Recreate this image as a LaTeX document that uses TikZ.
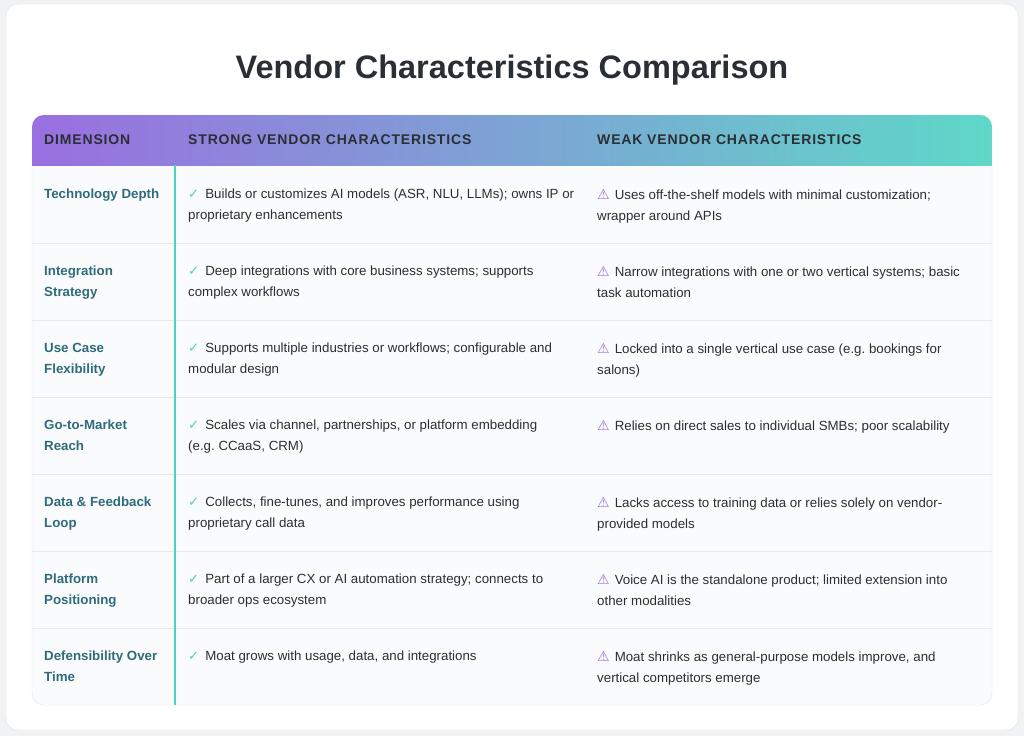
\documentclass[tikz,border=0pt]{standalone}
\usepackage{fontspec}
\setmainfont{Liberation Sans}
\newfontfamily\symfont{DejaVu Sans}
\usetikzlibrary{positioning}
\definecolor{pagebg}{HTML}{F1F2F4}
\definecolor{cardline}{HTML}{E3E5E8}
\definecolor{headl}{HTML}{9A6FE0}
\definecolor{headr}{HTML}{5FD8C8}
\definecolor{dimtext}{HTML}{2F6B7C}
\definecolor{bodytext}{HTML}{2A2F36}
\definecolor{tick}{HTML}{4FD1BE}
\definecolor{warn}{HTML}{9A6FE0}
\definecolor{rowline}{HTML}{E6E8EB}
\definecolor{rowbg}{HTML}{FAFBFC}
\tikzset{
  dimcell/.style={anchor=north west, text width=130pt, align=flush left, font=\fontsize{13.3}{21}\selectfont\bfseries, text=dimtext, inner sep=0pt},
  strongcell/.style={anchor=north west, text width=395pt, align=flush left, font=\fontsize{13.3}{21}\selectfont, text=bodytext, inner sep=0pt},
  weakcell/.style={strongcell},
  headcell/.style={anchor=west, font=\fontsize{14}{16}\selectfont\bfseries\addfontfeatures{LetterSpace=6}, text=bodytext, inner sep=0pt}
}
\newcommand{\good}{{\color{tick}\symfont ✓}\hspace{6pt}}
\newcommand{\bad}{{\color{warn}\symfont\fontsize{14}{21}\selectfont ⚠}\hspace{5pt}}
\begin{document}
\begin{tikzpicture}[x=1pt,y=-1pt]
        % Page and card
        \fill[pagebg] (0,0) rectangle (1024,736);
        \useasboundingbox (0,0) rectangle (1024,736);
        \draw[cardline, fill=white, rounded corners=12pt] (6,4) rectangle (1018,730);

        \node[font=\fontsize{32.5}{38}\selectfont\bfseries, text=bodytext] (title) at (512,70) {Vendor Characteristics Comparison};

        % Table body
        \draw[cardline, fill=rowbg, rounded corners=12pt] (32,115) rectangle (992,705);
        \begin{scope}
          \clip[rounded corners=12pt] (32,115) rectangle (992,190);
          \shade[left color=headl, right color=headr] (32,115) rectangle (992,165);
        \end{scope}
        \foreach \y in {243,320,397,474,551,628}
          \draw[rowline] (32,\y) -- (992,\y);
        \draw[tick, line width=2pt] (175,165) -- (175,705);

        % Header labels
        \node[headcell] (hdim) at (44,140) {DIMENSION};
        \node[headcell] (hstrong) at (188,140) {STRONG VENDOR CHARACTERISTICS};
        \node[headcell] (hweak) at (597,140) {WEAK VENDOR CHARACTERISTICS};

        % Rows
        \node[dimcell] (d1) at (44,189) {Technology Depth};
        \node[strongcell] (s1) at (188,189) {\good Builds or customizes AI models (ASR, NLU, LLMs); owns IP or\\proprietary enhancements};
        \node[weakcell] (w1) at (597,189) {\bad Uses off-the-shelf models with minimal customization;\\wrapper around APIs};

        \node[dimcell] (d2) at (44,266) {Integration\\Strategy};
        \node[strongcell] (s2) at (188,266) {\good Deep integrations with core business systems; supports\\complex workflows};
        \node[weakcell] (w2) at (597,266) {\bad Narrow integrations with one or two vertical systems; basic\\task automation};

        \node[dimcell] (d3) at (44,343) {Use Case\\Flexibility};
        \node[strongcell] (s3) at (188,343) {\good Supports multiple industries or workflows; configurable and\\modular design};
        \node[weakcell] (w3) at (597,343) {\bad Locked into a single vertical use case (e.g.\ bookings for\\salons)};

        \node[dimcell] (d4) at (44,420) {Go-to-Market\\Reach};
        \node[strongcell] (s4) at (188,420) {\good Scales via channel, partnerships, or platform embedding\\(e.g.\ CCaaS, CRM)};
        \node[weakcell] (w4) at (597,420) {\bad Relies on direct sales to individual SMBs; poor scalability};

        \node[dimcell] (d5) at (44,497) {Data \& Feedback\\Loop};
        \node[strongcell] (s5) at (188,497) {\good Collects, fine-tunes, and improves performance using\\proprietary call data};
        \node[weakcell] (w5) at (597,497) {\bad Lacks access to training data or relies solely on vendor-\\provided models};

        \node[dimcell] (d6) at (44,574) {Platform\\Positioning};
        \node[strongcell] (s6) at (188,574) {\good Part of a larger CX or AI automation strategy; connects to\\broader ops ecosystem};
        \node[weakcell] (w6) at (597,574) {\bad Voice AI is the standalone product; limited extension into\\other modalities};

        \node[dimcell] (d7) at (44,651) {Defensibility Over\\Time};
        \node[strongcell] (s7) at (188,651) {\good Moat grows with usage, data, and integrations};
        \node[weakcell] (w7) at (597,651) {\bad Moat shrinks as general-purpose models improve, and\\vertical competitors emerge};
\end{tikzpicture}
\end{document}
